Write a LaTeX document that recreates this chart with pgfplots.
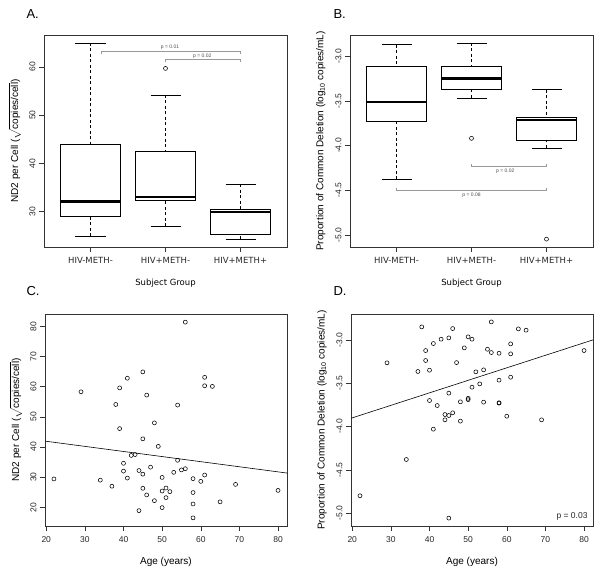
\documentclass[border=0pt]{standalone}
\usepackage{fontspec}
\setmainfont{Liberation Sans}
\newfontfamily\dejavu{DejaVu Sans}
\usepackage{pgfplots}
\pgfplotsset{compat=1.18}
\usepgfplotslibrary{statistics}

\pgfplotsset{
  rstyle/.style={
    scale only axis,
    width=243pt, height=212pt,
    tick align=outside,
    tick pos=left,
    major tick length=5pt,
    tick style={black!80, line width=0.5pt},
    axis line style={black!80, line width=0.6pt},
    /pgf/number format/assume math mode=true,
    ticklabel style={font=\fontsize{8.5}{10}\selectfont, text=black!85},
    xticklabel style={yshift=-2pt},
    yticklabel style={rotate=90, anchor=south},
    label style={font=\fontsize{8.5}{10}\selectfont, text=black!85},
    every axis y label/.style={at={(axis description cs:-0.12,0.5)}, rotate=90, anchor=center},
    every axis x label/.style={at={(axis description cs:0.5,-0.17)}, anchor=center},
  },
  rbox/.style={
    rstyle,
    boxplot/draw direction=y,
    xmin=0.38, xmax=3.62,
    xtick={1,2,3},
    xticklabels={HIV-METH-,HIV+METH-,HIV+METH+},
    xticklabel style={font=\dejavu\fontsize{8.5}{10}\selectfont},
    xlabel style={font=\dejavu\fontsize{8.5}{10}\selectfont},
    xlabel={Subject Group},
    boxplot/every median/.style={line width=2.3pt},
    boxplot/draw/lower whisker/.code={%
      \draw[dash pattern=on 3pt off 2.5pt] (boxplot box cs:\pgfplotsboxplotvalue{lower whisker},0.5) -- (boxplot box cs:\pgfplotsboxplotvalue{lower quartile},0.5);
      \draw[solid] (boxplot whisker cs:\pgfplotsboxplotvalue{lower whisker},0) -- (boxplot whisker cs:\pgfplotsboxplotvalue{lower whisker},1);
    },
    boxplot/draw/upper whisker/.code={%
      \draw[dash pattern=on 3pt off 2.5pt] (boxplot box cs:\pgfplotsboxplotvalue{upper whisker},0.5) -- (boxplot box cs:\pgfplotsboxplotvalue{upper quartile},0.5);
      \draw[solid] (boxplot whisker cs:\pgfplotsboxplotvalue{upper whisker},0) -- (boxplot whisker cs:\pgfplotsboxplotvalue{upper whisker},1);
    },
  },
  bx/.style={black, line width=0.6pt, solid},
  pts/.style={only marks, mark=o, mark size=2pt, mark options={black, line width=0.55pt}},
  brk/.style={black!40, line width=0.5pt},
}

\begin{document}
\begin{tikzpicture}
\useasboundingbox (0,0) rectangle (602pt,576pt);

% Panel A
\begin{axis}[rbox, at={(44pt,329pt)}, anchor=south west,
  ymin=22.67, ymax=66.63, ytick={30,40,50,60},
  ylabel={ND2 per Cell ($\sqrt{\mbox{copies/cell}}$)}]
\addplot[bx, boxplot prepared={draw position=1, median=32.1, upper quartile=44.0, lower quartile=29.0, upper whisker=65.0, lower whisker=24.9, box extend=0.8, whisker extend=0.4}] coordinates {};
\addplot[bx, boxplot prepared={draw position=2, median=33.1, upper quartile=42.6, lower quartile=32.3, upper whisker=54.2, lower whisker=27.0, box extend=0.8, whisker extend=0.4}] coordinates {};
\addplot[bx, boxplot prepared={draw position=3, median=29.9, upper quartile=30.5, lower quartile=25.4, upper whisker=35.7, lower whisker=24.3, box extend=0.8, whisker extend=0.4}] coordinates {};
\addplot[pts] coordinates {(2,59.7)};
\addplot[brk] coordinates {(1.142,62.76) (1.142,63.32) (3,63.32) (3,62.76)};
\addplot[brk] coordinates {(2,61.04) (2,61.54) (3,61.54) (3,61.04)};
\node[font=\fontsize{5}{6}\selectfont, text=black!70] at (axis cs:2.06,64.0) {p = 0.01};
\node[font=\fontsize{5}{6}\selectfont, text=black!70] at (axis cs:2.49,62.3) {p = 0.02};
\end{axis}

% Panel B
\begin{axis}[rbox, at={(350pt,329pt)}, anchor=south west,
  ymin=-5.136, ymax=-2.762, ytick={-5,-4.5,-4,-3.5,-3},
  yticklabels={-5.0,-4.5,-4.0,-3.5,-3.0},
  ylabel={Proportion of Common Deletion (log\textsubscript{10} copies/mL)}]
\addplot[bx, boxplot prepared={draw position=1, median=-3.511, upper quartile=-3.112, lower quartile=-3.724, upper whisker=-2.869, lower whisker=-4.375, box extend=0.8, whisker extend=0.4}] coordinates {};
\addplot[bx, boxplot prepared={draw position=2, median=-3.25, upper quartile=-3.112, lower quartile=-3.366, upper whisker=-2.850, lower whisker=-3.466, box extend=0.8, whisker extend=0.4}] coordinates {};
\addplot[bx, boxplot prepared={draw position=3, median=-3.713, upper quartile=-3.684, lower quartile=-3.942, upper whisker=-3.373, lower whisker=-4.027, box extend=0.8, whisker extend=0.4}] coordinates {};
\addplot[pts] coordinates {(2,-3.919) (3,-5.048)};
\addplot[brk] coordinates {(2,-4.203) (2,-4.233) (3,-4.233) (3,-4.203)};
\addplot[brk] coordinates {(1,-4.47) (1,-4.502) (3,-4.502) (3,-4.47)};
\node[font=\fontsize{5}{6}\selectfont, text=black!70] at (axis cs:2.45,-4.29) {p = 0.02};
\node[font=\fontsize{5}{6}\selectfont, text=black!70] at (axis cs:2.0,-4.552) {p = 0.08};
\end{axis}

% Panel C
\begin{axis}[rstyle, at={(45pt,50pt)}, anchor=south west, width=242pt,
  xmin=19.68, xmax=82.32, ymin=13.8, ymax=84.1,
  xtick={20,30,...,80}, ytick={20,30,...,80},
  xlabel={Age (years)},
  ylabel={ND2 per Cell ($\sqrt{\mbox{copies/cell}}$)}]
\addplot[pts] coordinates {
(22,29.4) (29,58.3) (34,29.0) (37,27.0) (38,54.1) (39,59.6) (39,46.1)
(40,34.6) (40,32.0) (41,62.8) (41,29.7) (42,37.2) (43,37.5) (44,32.2)
(44,18.9) (45,64.9) (45,42.7) (45,31.0) (45,26.3) (46,57.2) (46,24.1)
(47,33.3) (48,48.0) (48,22.2) (49,40.2) (50,29.9) (50,25.4) (50,19.9)
(51,26.4) (51,23.2) (52,25.2) (53,31.6) (54,53.9) (54,35.6) (55,32.4)
(56,81.4) (56,32.8) (58,29.5) (58,24.9) (58,21.1) (58,16.5) (60,28.6)
(61,63.1) (61,60.3) (61,30.7) (63,60.1) (65,21.8) (69,27.6) (80,25.6)};
\addplot[black, line width=0.6pt] coordinates {(19.68,41.95) (82.32,31.36)};
\end{axis}

% Panel D
\begin{axis}[rstyle, at={(351pt,50pt)}, anchor=south west, width=242pt,
  xmin=19.68, xmax=82.32, ymin=-5.149, ymax=-2.701,
  xtick={20,30,...,80}, ytick={-5,-4.5,-4,-3.5,-3},
  yticklabels={-5.0,-4.5,-4.0,-3.5,-3.0},
  xlabel={Age (years)},
  ylabel={Proportion of Common Deletion (log\textsubscript{10} copies/mL)}]
\addplot[pts] coordinates {
(22,-4.80) (29,-3.265) (34,-4.381) (37,-3.365) (38,-2.85) (39,-3.123) (39,-3.238)
(40,-3.35) (40,-3.70) (41,-3.042) (41,-4.031) (42,-3.758) (43,-2.992) (44,-3.862)
(44,-3.923) (45,-2.977) (45,-3.615) (45,-3.873) (45,-5.058) (46,-2.869) (46,-3.842)
(47,-3.262) (48,-3.715) (48,-3.938) (49,-3.092) (50,-2.965) (50,-3.675) (50,-3.69)
(51,-2.992) (51,-3.546) (52,-3.369) (53,-3.508) (54,-3.346) (54,-3.719) (55,-3.108)
(56,-2.792) (56,-3.146) (58,-3.154) (58,-3.465) (58,-3.726) (58,-3.73) (60,-3.881)
(61,-3.046) (61,-3.161) (61,-3.431) (63,-2.873) (65,-2.888) (69,-3.923) (80,-3.123)};
\addplot[black, line width=0.6pt] coordinates {(19.68,-3.905) (82.32,-3.00)};
\node[font=\fontsize{8.5}{10}\selectfont, text=black!85] at (axis cs:76.9,-5.042) {p = 0.03};
\end{axis}

\node[anchor=west, font=\fontsize{13}{15}\selectfont] at (23pt,562pt) {A.};
\node[anchor=west, font=\fontsize{13}{15}\selectfont] at (330pt,562pt) {B.};
\node[anchor=west, font=\fontsize{13}{15}\selectfont] at (23pt,285pt) {C.};
\node[anchor=west, font=\fontsize{13}{15}\selectfont] at (330pt,285pt) {D.};
\end{tikzpicture}
\end{document}
